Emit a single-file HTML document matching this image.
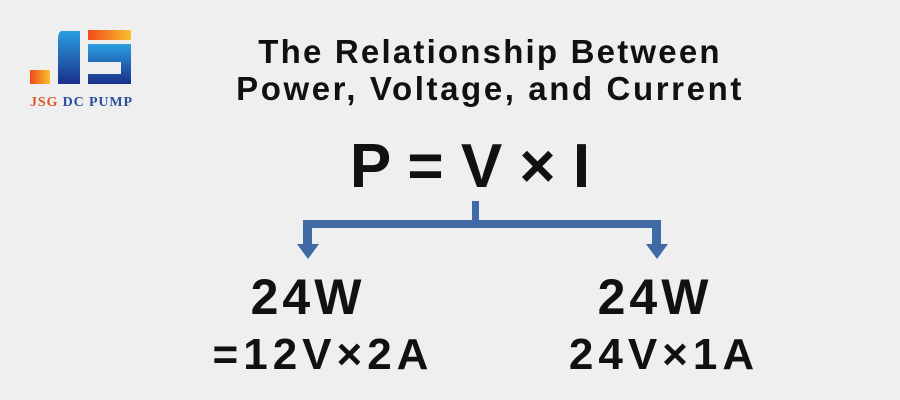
<!DOCTYPE html><html><head><style>
body{margin:0;width:900px;height:400px;background:#efefef;position:relative;overflow:hidden;font-family:"Liberation Sans",sans-serif;color:#111}
.t{position:absolute;white-space:nowrap;font-weight:bold;transform:translateX(-50%);line-height:1}
</style></head><body>
<svg width="900" height="400" style="position:absolute;left:0;top:0">
<defs>
<linearGradient id="b" x1="0" y1="0" x2="0" y2="1"><stop offset="0" stop-color="#2a9ee0"/><stop offset="1" stop-color="#1a2f8a"/></linearGradient>
<linearGradient id="o" x1="0" y1="0" x2="1" y2="0"><stop offset="0" stop-color="#f04a1a"/><stop offset="1" stop-color="#f8c030"/></linearGradient>
</defs>
<path d="M62 31 H80 V84 H58 V40 Q58 31 62 31Z" fill="url(#b)"/>
<rect x="30" y="70" width="20" height="14" fill="url(#o)"/>
<rect x="88" y="30" width="43" height="10" fill="url(#o)"/>
<path d="M88 44 H131 V84 H88 V74 H121 V62 H88Z" fill="url(#b)"/>
<g fill="#3f6aa6">
<rect x="472" y="201" width="7" height="24"/>
<rect x="303" y="220" width="358" height="8"/>
<rect x="303" y="220" width="9" height="26"/>
<rect x="652" y="220" width="9" height="26"/>
<polygon points="297,244 319,244 308,259"/>
<polygon points="646,244 668,244 657,259"/>
</g>
<text x="30" y="106" font-family="Liberation Serif,serif" font-weight="bold" font-size="14" textLength="102"><tspan fill="#e0552a">JSG </tspan><tspan fill="#2b4f9a">DC PUMP</tspan></text>
</svg>
<div class="t" style="left:490px;top:35px;font-size:33px;letter-spacing:2.2px">The Relationship Between</div>
<div class="t" style="left:490px;top:72px;font-size:33px;letter-spacing:2.6px">Power, Voltage, and Current</div>
<div class="t" style="left:470px;top:136px;font-size:62px">P = V × I</div>
<div class="t" style="left:308px;top:272px;font-size:50px;letter-spacing:4px">24W</div>
<div class="t" style="left:323px;top:333px;font-size:44px;letter-spacing:5px">=12V×2A</div>
<div class="t" style="left:655px;top:272px;font-size:50px;letter-spacing:4px">24W</div>
<div class="t" style="left:664px;top:333px;font-size:44px;letter-spacing:5px">24V×1A</div>
</body></html>
